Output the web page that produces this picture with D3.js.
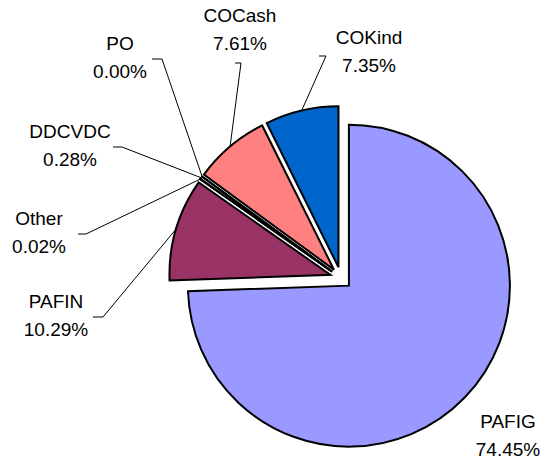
<!DOCTYPE html>
<html>
<head>
<meta charset="utf-8">
<script src="https://cdn.jsdelivr.net/npm/d3@7"></script>
<style>
  html, body { margin: 0; padding: 0; background: #fff; }
  svg { display: block; }
  text { font-family: "Liberation Sans", Arial, sans-serif; fill: #000; }
</style>
</head>
<body>
<svg id="chart" width="547" height="465"></svg>
<script>
// Share of each category (percent), in drawing order clockwise from 12 o'clock
const categories = ["PAFIG", "PAFIN", "Other", "DDCVDC", "PO", "COCash", "COKind"];
const shares     = [74.45, 10.29, 0.02, 0.28, 0.00, 7.61, 7.35];
const colors     = ["#9999FF", "#993366", "#FFFFCC", "#CCFFFF", "#660066", "#FF8080", "#0066CC"];

// Label placement: text centre x, first baseline y, and leader-line start/knee (null = no leader)
const labelLayout = {
  PAFIG:  { x: 508, y: 428, lead: null },
  PAFIN:  { x: 56,  y: 308, lead: [[93, 317], [103, 317]] },
  Other:  { x: 39,  y: 225, lead: [[78, 234], [86, 234]] },
  DDCVDC: { x: 70,  y: 138, lead: [[113, 147], [122, 147]] },
  PO:     { x: 120, y: 50,  lead: [[152, 59], [162, 59]] },
  COCash: { x: 240, y: 22,  lead: [[235, 63], [241, 63]] },
  COKind: { x: 369, y: 44,  lead: [[319, 56], [326, 56]] }
};

const cx = 341, cy = 278, radius = 161, explode = 11;
const fontSize = 19, lineGap = 28;

const data = categories.map((c, i) => ({ name: c, value: shares[i], color: colors[i] }));

const svg = d3.select("#chart");

const pie = d3.pie().sort(null).value(d => d.value).startAngle(0).endAngle(2 * Math.PI);
const arc = d3.arc().innerRadius(0).outerRadius(radius);
const arcs = pie(data);

// offset of an exploded slice along its mid-angle
function shift(a) {
  const m = (a.startAngle + a.endAngle) / 2;
  return [explode * Math.sin(m), -explode * Math.cos(m)];
}

const g = svg.append("g").attr("transform", `translate(${cx},${cy})`);

g.selectAll("path.slice")
  .data(arcs)
  .join("path")
  .attr("class", "slice")
  .attr("transform", d => { const [dx, dy] = shift(d); return `translate(${dx},${dy})`; })
  .attr("d", arc)
  .attr("fill", d => d.data.color)
  .attr("stroke", "#000")
  .attr("stroke-width", 2)
  .attr("stroke-linejoin", "miter");

// leader lines run from the label to the slice rim at its mid-angle
arcs.forEach(a => {
  const lay = labelLayout[a.data.name];
  if (!lay.lead) return;
  const [dx, dy] = shift(a);
  const m = (a.startAngle + a.endAngle) / 2;
  const ex = cx + dx + radius * Math.sin(m);
  const ey = cy + dy - radius * Math.cos(m);
  const pts = [...lay.lead, [ex, ey]];
  svg.append("path")
    .attr("d", d3.line()(pts))
    .attr("fill", "none")
    .attr("stroke", "#000")
    .attr("stroke-width", 1);
});

// category name and percentage labels
arcs.forEach(a => {
  const lay = labelLayout[a.data.name];
  const t = svg.append("text")
    .attr("text-anchor", "middle")
    .attr("font-size", fontSize);
  t.append("tspan").attr("x", lay.x).attr("y", lay.y).text(a.data.name);
  t.append("tspan").attr("x", lay.x).attr("y", lay.y + lineGap).text(d3.format(".2f")(a.data.value) + "%");
});
</script>
</body>
</html>
